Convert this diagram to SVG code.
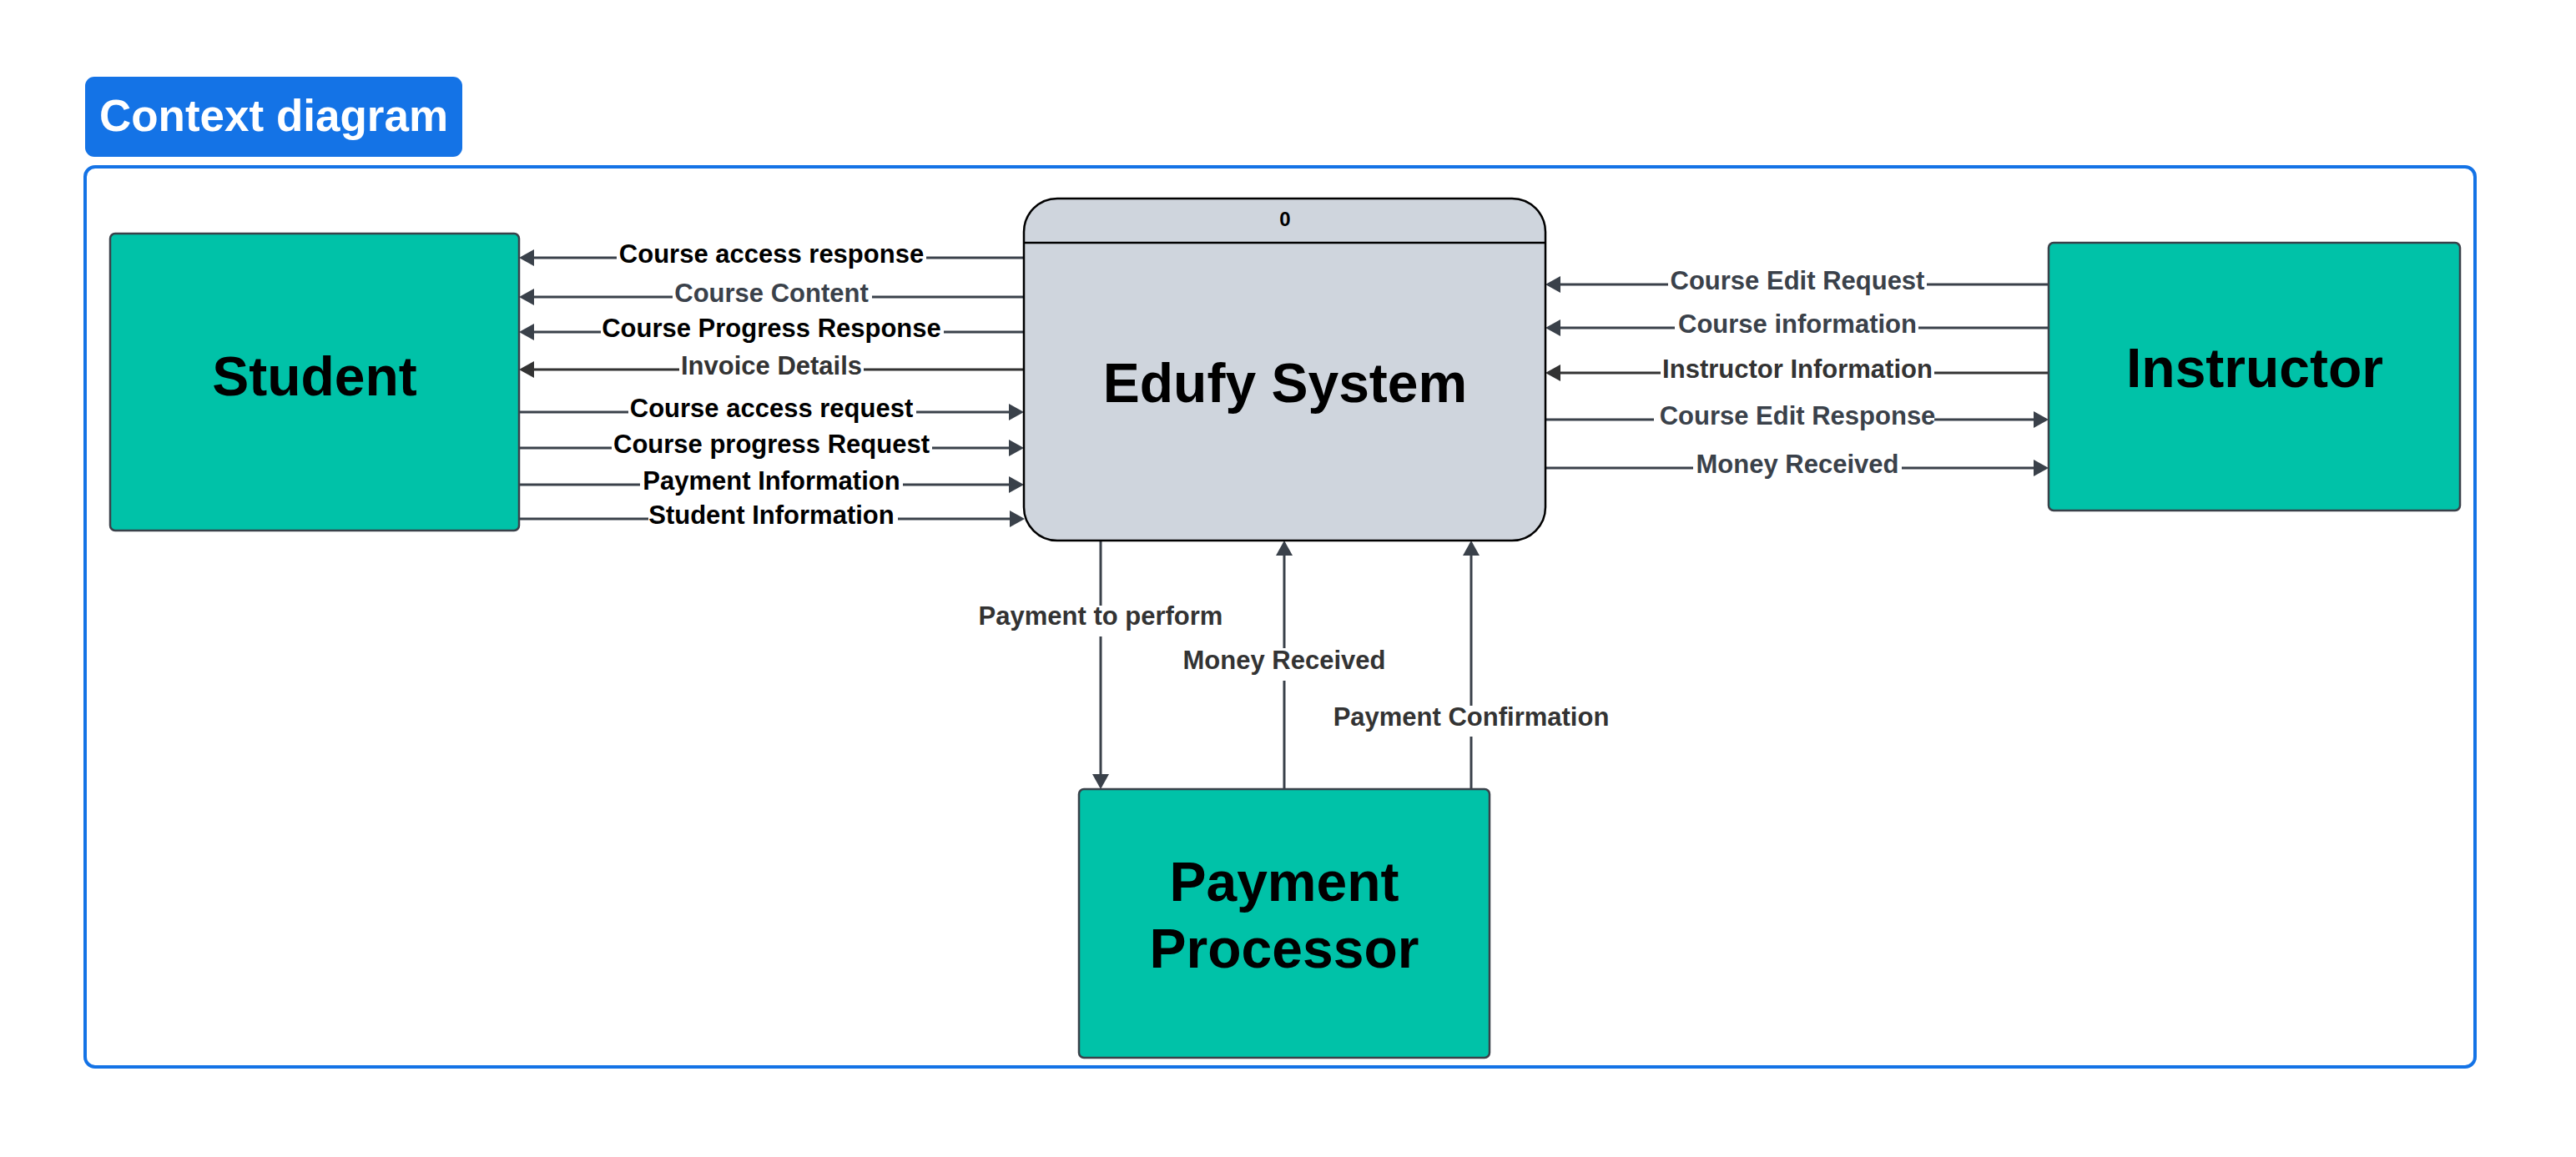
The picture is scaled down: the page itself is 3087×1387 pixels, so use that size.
<svg xmlns="http://www.w3.org/2000/svg" width="3087" height="1387" viewBox="0 0 3087 1387">
<defs>
<style>
.ent{fill:#00c2a8;stroke:#3a414a;stroke-width:2.5}
.proc{fill:#cfd5dd;stroke:#000;stroke-width:2.5}
.big{font-family:"Liberation Sans",Arial,sans-serif;font-weight:bold;font-size:66px;fill:#000;text-anchor:middle}
.lab{font-family:"Liberation Sans",Arial,sans-serif;font-weight:bold;font-size:31px;text-anchor:middle}
.k{fill:#000}
.g{fill:#3a414a}
.d{fill:#333333}
.bg{fill:#fff}
.ln{fill:none;stroke:#3a414a;stroke-width:3;marker-end:url(#ah)}
.ln2{fill:none;stroke:#333333;stroke-width:3;marker-end:url(#ah2)}
</style>
<marker id="ah" viewBox="0 0 18 20" refX="15" refY="10" markerWidth="18" markerHeight="20" markerUnits="userSpaceOnUse" orient="auto">
<path d="M0,0 L18,10 L0,20 z" fill="#3a414a"/>
</marker>
<marker id="ah2" viewBox="0 0 18 20" refX="15" refY="10" markerWidth="18" markerHeight="20" markerUnits="userSpaceOnUse" orient="auto">
<path d="M0,0 L18,10 L0,20 z" fill="#333333"/>
</marker>
</defs>
<rect width="3087" height="1387" fill="#fff"/>
<g id="title">
<rect x="102" y="92" width="452" height="96" rx="11" fill="#1473e6"/>
<text x="328" y="157" font-family="'Liberation Sans',Arial,sans-serif" font-weight="bold" font-size="53" fill="#fff" text-anchor="middle">Context diagram</text>
</g>
<g id="frame">
<rect x="102" y="200" width="2864" height="1079" rx="12" fill="none" stroke="#1473e6" stroke-width="4"/>
</g>
<g id="connectors">
<g><path class="ln" d="M1227,309 H625"/><rect class="bg" x="739" y="295" width="371" height="28"/><text class="lab k" x="924.5" y="315">Course access response</text></g>
<g><path class="ln" d="M1227,356 H625"/><rect class="bg" x="806" y="342" width="239" height="28"/><text class="lab g" x="924.5" y="362">Course Content</text></g>
<g><path class="ln" d="M1227,398 H625"/><rect class="bg" x="720" y="384" width="411" height="28"/><text class="lab k" x="924.5" y="404">Course Progress Response</text></g>
<g><path class="ln2" d="M1227,443 H625"/><rect class="bg" x="814" y="429" width="221" height="28"/><text class="lab d" x="924.5" y="449">Invoice Details</text></g>
<g><path class="ln" d="M622,494 H1224"/><rect class="bg" x="753" y="480" width="345" height="28"/><text class="lab k" x="924.5" y="500">Course access request</text></g>
<g><path class="ln" d="M622,537 H1224"/><rect class="bg" x="733" y="523" width="384" height="28"/><text class="lab k" x="924.5" y="543">Course progress Request</text></g>
<g><path class="ln" d="M622,581 H1224"/><rect class="bg" x="767" y="567" width="315" height="28"/><text class="lab k" x="924.5" y="587">Payment Information</text></g>
<g><path class="ln" d="M622,622 H1225"/><rect class="bg" x="777" y="608" width="299" height="28"/><text class="lab k" x="924.5" y="628">Student Information</text></g>
<g><path class="ln" d="M2455,341 H1855"/><rect class="bg" x="1999" y="327" width="310" height="28"/><text class="lab g" x="2154" y="347">Course Edit Request</text></g>
<g><path class="ln" d="M2455,393 H1855"/><rect class="bg" x="2007" y="379" width="292" height="28"/><text class="lab g" x="2154" y="399">Course information</text></g>
<g><path class="ln2" d="M2455,447 H1855"/><rect class="bg" x="1990" y="433" width="328" height="28"/><text class="lab d" x="2154" y="453">Instructor Information</text></g>
<g><path class="ln" d="M1852,503 H2452"/><rect class="bg" x="1982" y="489" width="336" height="28"/><text class="lab g" x="2154" y="509">Course Edit Response</text></g>
<g><path class="ln" d="M1852,561 H2452"/><rect class="bg" x="2029" y="547" width="250" height="28"/><text class="lab g" x="2154" y="567">Money Received</text></g>
<g><path class="ln" d="M1319,649 V943"/><rect class="bg" x="1170" y="726" width="298" height="37"/><text class="lab d" x="1319" y="749">Payment to perform</text></g>
<g><path class="ln" d="M1539,946 V651"/><rect class="bg" x="1415" y="777" width="248" height="39"/><text class="lab d" x="1539" y="802">Money Received</text></g>
<g><path class="ln" d="M1763,946 V651"/><rect class="bg" x="1596" y="846" width="335" height="37"/><text class="lab d" x="1763" y="870">Payment Confirmation</text></g>
</g>
<g id="student">
<rect class="ent" x="132" y="280" width="490" height="356" rx="6"/>
<text class="big" x="377" y="474">Student</text>
</g>
<g id="edufy">
<rect class="proc" x="1227" y="238" width="625" height="410" rx="40"/>
<line x1="1227" y1="291" x2="1852" y2="291" stroke="#000" stroke-width="2.5"/>
<text x="1540" y="271" font-family="'Liberation Sans',Arial,sans-serif" font-weight="bold" font-size="24" text-anchor="middle" fill="#000">0</text>
<text class="big" x="1540" y="482">Edufy System</text>
</g>
<g id="instructor">
<rect class="ent" x="2455" y="291" width="493" height="321" rx="6"/>
<text class="big" x="2702" y="464">Instructor</text>
</g>
<g id="payment">
<rect class="ent" x="1293" y="946" width="492" height="322" rx="6"/>
<text class="big" x="1539" y="1080">Payment</text>
<text class="big" x="1539" y="1160">Processor</text>
</g>
</svg>
